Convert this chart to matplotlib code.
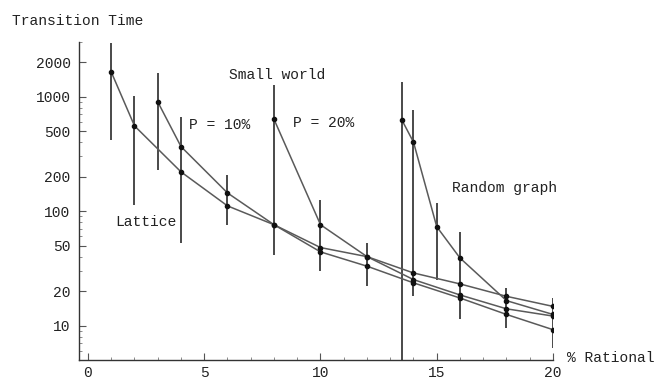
import matplotlib
matplotlib.use("Agg")
import matplotlib.pyplot as plt
from matplotlib.ticker import FixedLocator, LogLocator, NullFormatter

# transition time vs. share of rational agents, per network type
lattice_x = [1, 2, 4, 6, 8, 10, 12, 14, 16, 18, 20]
lattice_y = [1640, 555, 220, 111, 76, 44, 33, 23.6, 17.4, 12.5, 9.2]

p10_x = [3, 4, 6, 8, 10, 12, 14, 16, 18, 20]
p10_y = [900, 366, 144, 76, 48, 40, 28.8, 23.1, 18.0, 14.7]

p20_x = [8, 10, 12, 14, 16, 18, 20]
p20_y = [634, 76, 40, 25.2, 18.5, 14.0, 12.1]

random_x = [13.5, 14, 15, 16, 18, 20]
random_y = [625, 400, 73, 38.9, 16.5, 12.5]

# spread of the runs at each measured share
bar_x = [1, 2, 3, 4, 6, 8, 10, 12, 13.5, 14, 15, 16, 18, 20]
bar_lo = [419, 113, 229, 53, 76, 41.6, 29.7, 22, 5, 18, 25, 11.3, 9.6, 6.4]
bar_hi = [2930, 1012, 1607, 664, 207, 1262, 126, 53, 1340, 764, 118, 65, 21.4, 17.5]

y_ticks = [10, 20, 50, 100, 200, 500, 1000, 2000]
x_ticks = [0, 5, 10, 15, 20]

plt.rcParams["font.family"] = ["Liberation Mono", "DejaVu Sans Mono"]
plt.rcParams["font.size"] = 10.5

fig = plt.figure(figsize=(6.58, 3.81), dpi=100)
ax = fig.add_axes([79 / 658, 1 - 360 / 381, 474 / 658, 318 / 381])

ax.vlines(bar_x, bar_lo, bar_hi, color="#3a3a3a", lw=1.3, zorder=2)

for xs, ys in [(lattice_x, lattice_y), (p10_x, p10_y), (p20_x, p20_y), (random_x, random_y)]:
  ax.plot(xs, ys, color="#5a5a5a", lw=1.1, zorder=3)
  ax.plot(xs, ys, "o", color="#111111", ms=3, zorder=4)

ax.set_yscale("log")
ax.set_xlim(-0.387, 20)
ax.set_ylim(5, 3000)

ax.yaxis.set_major_locator(FixedLocator(y_ticks))
ax.set_yticklabels([str(t) for t in y_ticks])
ax.yaxis.set_minor_locator(LogLocator(base=10, subs=range(1, 10)))
ax.yaxis.set_minor_formatter(NullFormatter())
ax.xaxis.set_major_locator(FixedLocator(x_ticks))
ax.xaxis.set_minor_locator(FixedLocator(range(0, 21)))

for side in ["top", "right"]:
  ax.spines[side].set_visible(False)
for side in ["left", "bottom"]:
  ax.spines[side].set_color("#333333")
  ax.spines[side].set_linewidth(1.0)

ax.tick_params(which="major", direction="in", length=5, width=0.8, color="#555555", labelcolor="#222222")
ax.tick_params(which="minor", direction="in", length=2.5, width=0.6, color="#777777")
ax.tick_params(axis="y", which="major", pad=6)
ax.tick_params(axis="x", which="major", pad=4)

ax.text(8.13, 1540, "Small world", ha="center", va="center", color="#222222")
ax.text(4.35, 565, "P = 10%", ha="left", va="center", color="#222222")
ax.text(8.82, 589, "P = 20%", ha="left", va="center", color="#222222")
ax.text(15.66, 160, "Random graph", ha="left", va="center", color="#222222")
ax.text(1.16, 80.7, "Lattice", ha="left", va="center", color="#222222")

fig.text(567 / 658, 1 - 358 / 381, "% Rational", ha="left", va="center", color="#222222")
fig.text(12 / 658, 1 - 21 / 381, "Transition Time", ha="left", va="center", color="#222222")

fig.savefig("out.png", dpi=100)
